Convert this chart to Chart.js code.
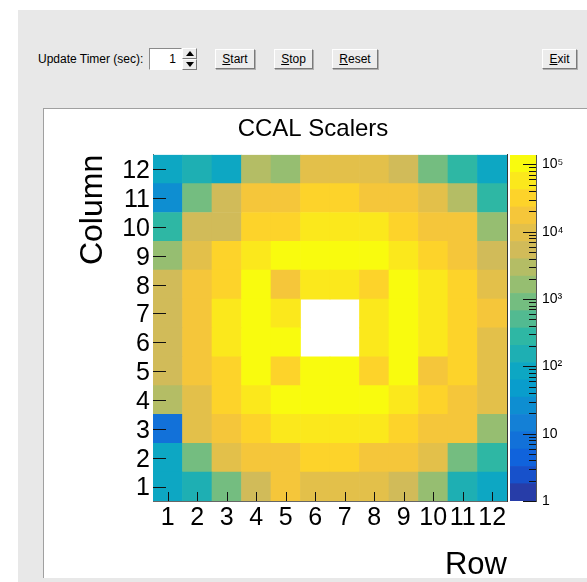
<!DOCTYPE html>
<html><head><meta charset="utf-8">
<script src="https://cdn.jsdelivr.net/npm/chart.js@4.4.0/dist/chart.umd.min.js"></script>
<style>
html,body{margin:0;padding:0;background:#fff;width:587px;height:582px;overflow:hidden;font-family:"Liberation Sans",Arial,sans-serif;}
#frame{position:absolute;left:18px;top:10px;width:569px;height:572px;background:#e8e8e8;}
.lbl{position:absolute;font-size:12px;line-height:14px;color:#000;white-space:nowrap;}
.btn{position:absolute;height:20px;box-sizing:border-box;background:#ececec;border:1px solid;border-color:#fff #7a7a7a #7a7a7a #fff;box-shadow:1px 1px 0 #b0b0b0;font-size:12px;line-height:18px;text-align:center;color:#000;}
#entry{position:absolute;left:149px;top:48px;width:33px;height:22px;box-sizing:border-box;background:#fff;border:1px solid;border-color:#8a8a8a #fff #fff #8a8a8a;font-size:12px;line-height:20px;text-align:right;padding-right:5px;}
#spin{position:absolute;left:182px;top:48px;width:15px;height:22px;box-sizing:border-box;}
.sp{position:absolute;left:0;width:15px;height:11px;box-sizing:border-box;background:#ececec;border:1px solid;border-color:#fff #7a7a7a #7a7a7a #fff;}
.sp div{position:absolute;left:3px;width:0;height:0;border-left:4px solid transparent;border-right:4px solid transparent;}
#panel{position:absolute;left:43px;top:108px;width:600px;height:469px;background:#fff;border-top:1px solid #a0a0a0;border-left:1px solid #a0a0a0;}
canvas{position:absolute;}
</style></head><body>
<div id="frame"></div>
<div class="lbl" style="left:38px;top:52px;">Update Timer (sec):</div>
<div id="entry">1</div>
<div id="spin">
  <div class="sp" style="top:0"><div style="top:2px;border-bottom:5px solid #000;"></div></div>
  <div class="sp" style="top:11px"><div style="top:2px;border-top:5px solid #000;"></div></div>
</div>
<div class="btn" style="left:215px;top:49px;width:40px;"><u>S</u>tart</div>
<div class="btn" style="left:274px;top:49px;width:39px;"><u>S</u>top</div>
<div class="btn" style="left:332px;top:49px;width:46px;"><u>R</u>eset</div>
<div class="btn" style="left:542px;top:49px;width:35px;"><u>E</u>xit</div>
<div id="panel"></div>
<canvas id="main" width="538" height="473" style="left:44px;top:109px;"></canvas>
<canvas id="bar" width="77" height="473" style="left:510px;top:109px;"></canvas>
<script>
// ---- data ----
const rowLabels = ['1','2','3','4','5','6','7','8','9','10','11','12'];
const columnLabels = [1,2,3,4,5,6,7,8,9,10,11,12];
// counts per "Column" (y), listed along Row 1..12 (x); null = empty cell
const column1  = [86, 152, 870, 5280, 17200, 9650, 9900, 9500, 5450, 1590, 148, 87];
const column2  = [84, 890, 9450, 17000, 17500, 30700, 31800, 17300, 16700, 9550, 905, 282];
const column3  = [8, 9900, 17700, 30600, 56200, 58500, 57800, 55800, 31300, 17400, 16600, 1620];
const column4  = [2850, 9600, 31400, 55500, 99500, 108000, 106000, 95000, 56800, 31600, 16900, 9700];
const column5  = [5150, 17300, 30800, 100000, 31200, 96000, 99000, 32200, 104000, 17100, 30900, 9900];
const column6  = [5250, 16900, 57000, 102000, 97000, null, null, 56500, 107000, 57500, 32000, 9800];
const column7  = [5350, 17100, 56000, 105000, 57000, null, null, 58000, 108000, 55000, 31800, 17900];
const column8  = [5200, 17600, 31500, 98000, 17400, 57500, 55500, 32500, 103000, 56500, 31000, 9500];
const column9  = [1580, 9700, 32000, 57000, 101000, 106000, 104000, 99000, 56000, 30500, 17300, 5100];
const column10 = [285, 5300, 5500, 30000, 31500, 56000, 58000, 55000, 31000, 17000, 17800, 1600];
const column11 = [26, 910, 5400, 17500, 16800, 31000, 30500, 17200, 16500, 9400, 2950, 275];
const column12 = [88, 150, 82, 2900, 1650, 9800, 10200, 9600, 5200, 880, 290, 86];
const columns = [column1,column2,column3,column4,column5,column6,column7,column8,column9,column10,column11,column12];
const zTickValues = [1,2,3,4,5,6,7,8,9,10,20,30,40,50,60,70,80,90,100,200,300,400,500,600,700,800,900,
  1000,2000,3000,4000,5000,6000,7000,8000,9000,10000,20000,30000,40000,50000,60000,70000,80000,90000,100000];
const zMajorLabels = {1:'1',10:'10',100:'10²',1000:'10³',10000:'10⁴',100000:'10⁵'};
const ZMIN = 1, ZMAX = 138000, NCONT = 20;

// ---- kBird palette ----
const birdStops = [0.0,0.125,0.25,0.375,0.5,0.625,0.75,0.875,1.0];
const birdR = [0.2082,0.0592,0.0780,0.0232,0.1802,0.5301,0.8186,0.9956,0.9764];
const birdG = [0.1664,0.3599,0.5041,0.6419,0.7178,0.7492,0.7328,0.7862,0.9832];
const birdB = [0.5293,0.8684,0.8385,0.7914,0.6425,0.4662,0.3499,0.1968,0.0539];
function bird(f){
  let k=0; while(k<birdStops.length-2 && f>birdStops[k+1]) k++;
  const t=(f-birdStops[k])/(birdStops[k+1]-birdStops[k]);
  const c=a=>Math.round(255*(a[k]+(a[k+1]-a[k])*t));
  return 'rgb('+c(birdR)+','+c(birdG)+','+c(birdB)+')';
}
function bandColor(i){ return bird(Math.floor((i+0.99)*255/NCONT)/254); }
const lmin=Math.log10(ZMIN), lmax=Math.log10(ZMAX);
function bandOf(v){ return Math.max(0,Math.min(NCONT-1,Math.floor((Math.log10(v)-lmin)/(lmax-lmin)*NCONT))); }
const levels=[]; for(let i=0;i<=NCONT;i++) levels.push(Math.pow(10,lmin+(lmax-lmin)*i/NCONT));

const FONT = "'Liberation Sans', Arial, sans-serif";

// ---- main heat map ----
const datasets = columns.map((vals,k)=>{
  const yv = columnLabels[k];
  return {
    label:'Column '+yv,
    data: vals.map(v=> v==null ? null : [yv-0.5, yv+0.5]),
    backgroundColor: vals.map(v=> v==null ? 'rgba(0,0,0,0)' : bandColor(bandOf(v)))
  };
});

const innerTicks = {
  id:'innerTicks',
  afterDraw(chart){
    const ctx = chart.ctx, a = chart.chartArea, x = chart.scales.x, y = chart.scales.y;
    ctx.save(); ctx.strokeStyle='#111'; ctx.lineWidth=1; ctx.beginPath();
    columnLabels.forEach(v=>{const py=Math.round(y.getPixelForValue(v))+0.5; ctx.moveTo(a.left,py); ctx.lineTo(a.left+13,py);});
    rowLabels.forEach((l,i)=>{const px=Math.round(x.getPixelForValue(i))+0.5; ctx.moveTo(px,a.bottom); ctx.lineTo(px,a.bottom-9);});
    ctx.stroke(); ctx.restore();
  }
};

new Chart(document.getElementById('main'), {
  type:'bar',
  data:{labels:rowLabels, datasets},
  options:{
    responsive:false, animation:false, devicePixelRatio:1,
    layout:{padding:0},
    datasets:{bar:{grouped:false,barPercentage:1,categoryPercentage:1,borderWidth:0,borderSkipped:false}},
    plugins:{
      legend:{display:false}, tooltip:{enabled:false},
      title:{display:true,text:'CCAL Scalers',color:'#000',font:{family:FONT,size:24,weight:'normal'},padding:{top:6,bottom:11}}
    },
    scales:{
      x:{type:'category',offset:true,z:1,grid:{display:false,drawTicks:false},
         border:{display:true,color:'#666',width:1},
         ticks:{color:'#000',font:{family:FONT,size:25},padding:2,maxRotation:0,autoSkip:false},
         title:{display:true,text:'Row',align:'end',color:'#000',font:{family:FONT,size:31},padding:{top:0,bottom:-2}},
         afterFit(s){s.height=81;}},
      y:{type:'linear',min:0.5,max:12.5,z:1,grid:{display:false,drawTicks:false},
         afterBuildTicks(s){s.ticks=columnLabels.map(v=>({value:v}));},
         border:{display:true,color:'#666',width:1},
         ticks:{color:'#000',font:{family:FONT,size:25},padding:3,labelOffset:2,autoSkip:false},
         title:{display:true,text:'Column',align:'end',color:'#000',font:{family:FONT,size:32},padding:{top:30,bottom:0}},
         afterFit(s){s.width=109;}},
      yR:{type:'linear',position:'right',min:0.5,max:12.5,z:1,grid:{display:false,drawTicks:false},
         ticks:{display:false},border:{display:true,color:'#333',width:1},
         afterFit(s){s.width=75;}}
    }
  },
  plugins:[innerTicks]
});

// ---- colour bar ----
const barTicks = {
  id:'barTicks',
  afterDraw(chart){
    const ctx = chart.ctx, a = chart.chartArea, y = chart.scales.y;
    ctx.save(); ctx.strokeStyle='#111'; ctx.lineWidth=1; ctx.beginPath();
    zTickValues.forEach(v=>{
      const py=Math.round(y.getPixelForValue(v))+0.5;
      const len = zMajorLabels[v] ? 13 : 7;
      ctx.moveTo(a.right,py); ctx.lineTo(a.right-len,py);
    });
    ctx.stroke(); ctx.restore();
  }
};
new Chart(document.getElementById('bar'), {
  type:'bar',
  data:{labels:[''], datasets: levels.slice(0,NCONT).map((lo,i)=>({
    label:'level '+i, data:[[lo, levels[i+1]]], backgroundColor:bandColor(i)}))},
  options:{
    responsive:false, animation:false, devicePixelRatio:1,
    layout:{padding:{top:46,bottom:81,left:0,right:0}},
    datasets:{bar:{grouped:false,barPercentage:1,categoryPercentage:1,borderWidth:0,borderSkipped:false}},
    plugins:{legend:{display:false},tooltip:{enabled:false}},
    scales:{
      x:{display:false,offset:true},
      y:{type:'logarithmic',position:'right',min:ZMIN,max:ZMAX,z:1,
         afterBuildTicks(s){s.ticks=zTickValues.map(v=>({value:v}));},
         grid:{display:false,drawTicks:false},border:{display:true,color:'#555',width:1},
         ticks:{color:'#000',font:{family:FONT,size:14},padding:6,autoSkip:false,
                callback:(v)=> zMajorLabels[v] || ''},
         afterFit(s){s.width=51;}}
    }
  },
  plugins:[barTicks]
});
</script>
</body></html>
